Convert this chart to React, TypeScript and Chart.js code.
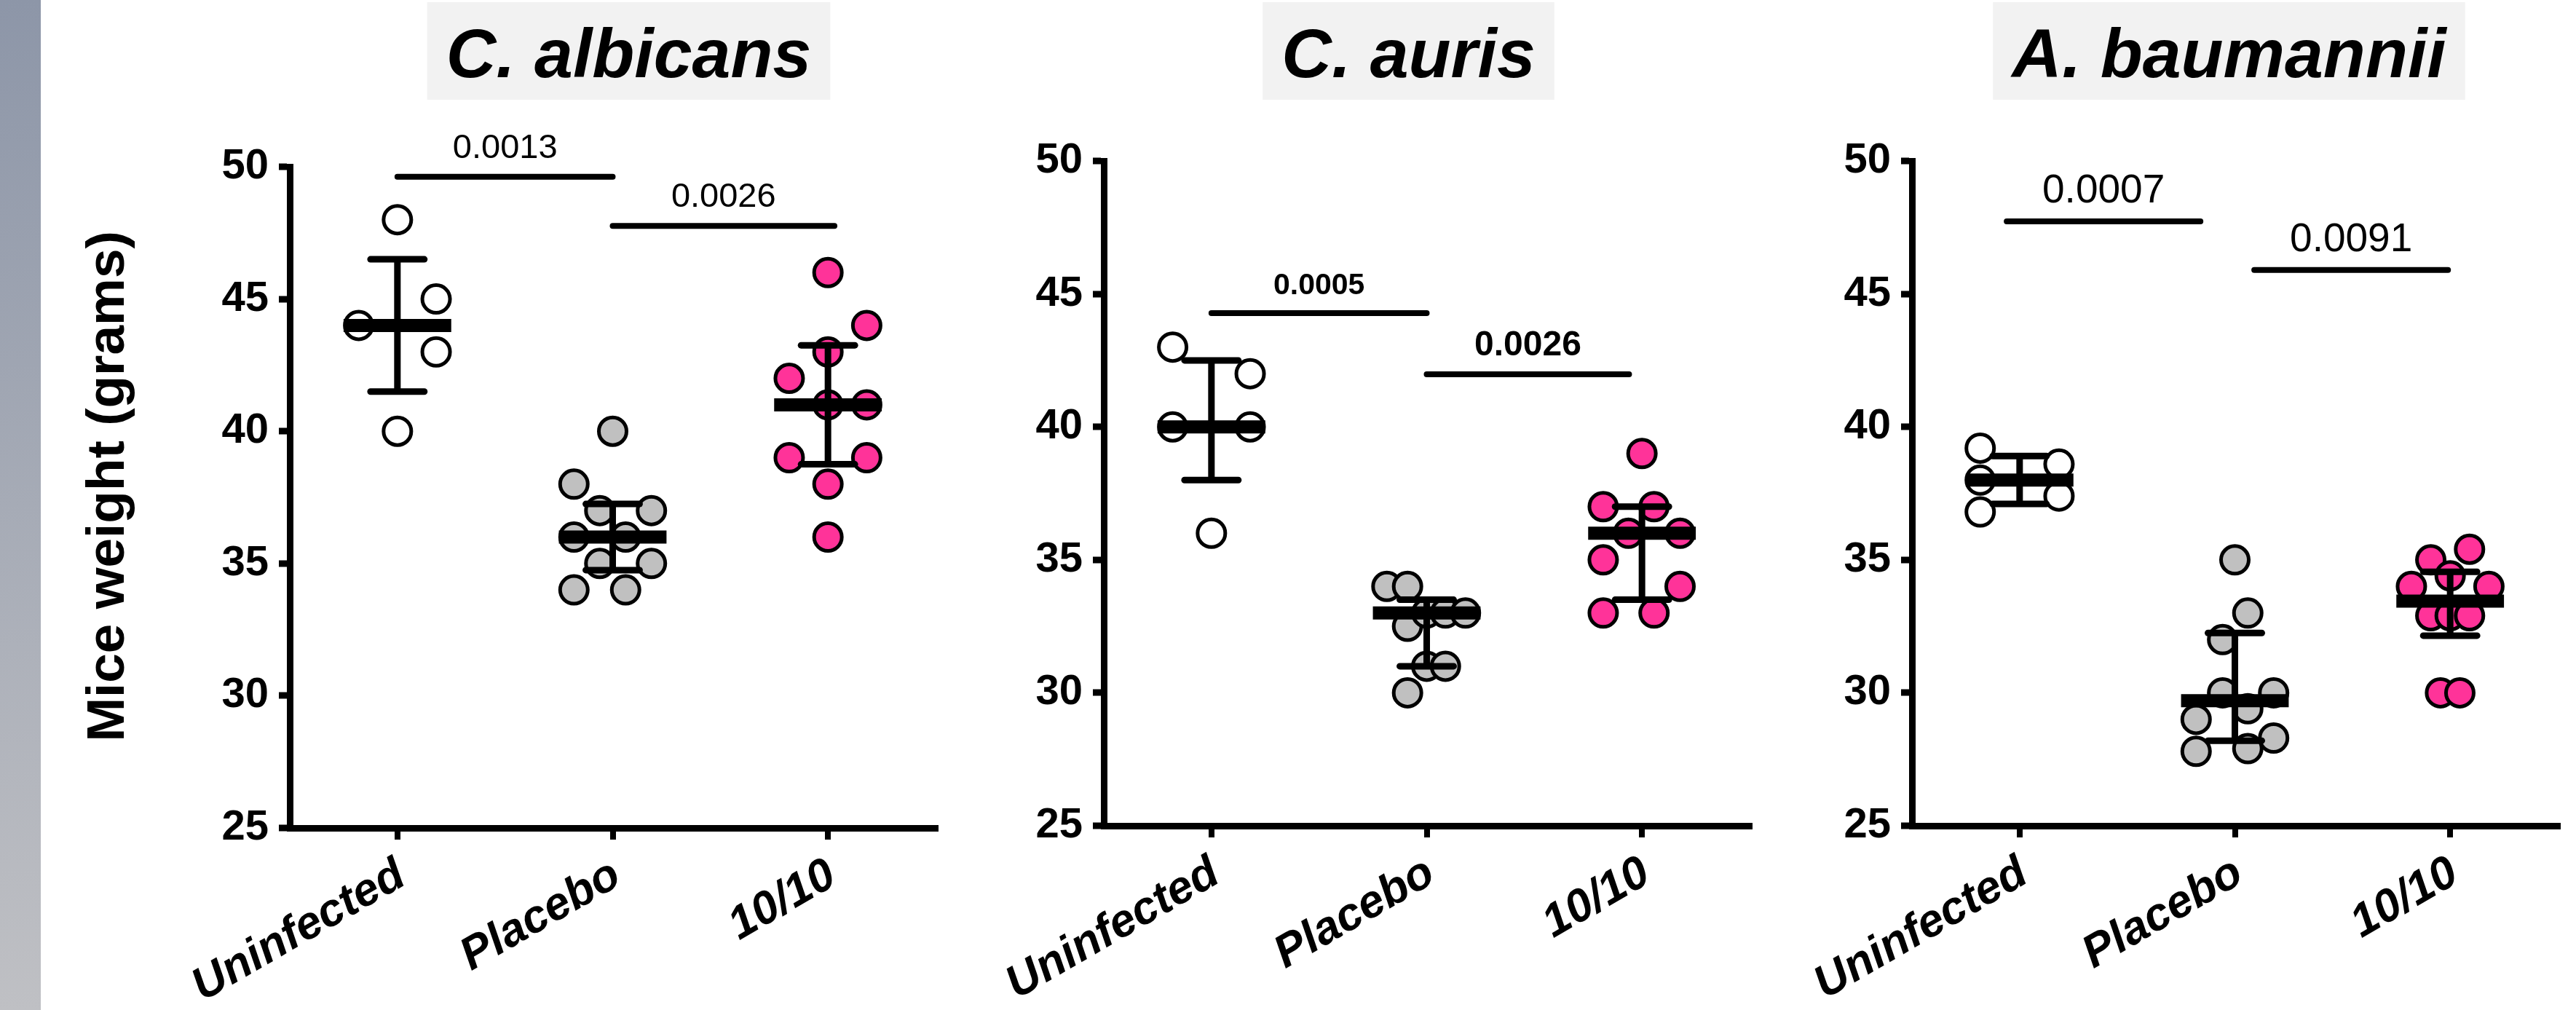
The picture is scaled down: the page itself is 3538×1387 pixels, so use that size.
import React, { useEffect, useRef } from 'react';
import { Chart, registerables } from 'chart.js';

Chart.register(...registerables);

const FONT = '"Liberation Sans", Arial, Helvetica, sans-serif';

// ---------------- data ----------------
const categories = ['Uninfected', 'Placebo', '10/10'];
const panelTitles = ['C. albicans', 'C. auris', 'A. baumannii'];
const yTickValues = [25, 30, 35, 40, 45, 50];
const yAxisTitle = 'Mice weight (grams)';

// C. albicans
const albUninfected = [48, 45, 44, 43, 40];
const albUninfectedJitter = [0, 0.18, -0.18, 0.18, 0];
const albPlacebo = [40, 38, 37, 37, 36, 36, 35, 35, 34, 34];
const albPlaceboJitter = [0, -0.18, -0.06, 0.18, -0.18, 0.06, -0.06, 0.18, -0.18, 0.06];
const albTreated = [46, 44, 43, 42, 41, 41, 39, 39, 38, 36];
const albTreatedJitter = [0, 0.18, 0, -0.18, 0, 0.18, -0.18, 0.18, 0, 0];
const albMedian = [44, 36, 41];
const albQ1 = [41.5, 34.75, 38.75];
const albQ3 = [46.5, 37.25, 43.25];
const albSigFrom = [0, 1];
const albSigTo = [1, 2.03];
const albSigY = [49.62, 47.76];
const albSigP = ['0.0013', '0.0026'];

// C. auris
const aurUninfected = [43, 42, 40, 40, 36];
const aurUninfectedJitter = [-0.18, 0.18, -0.18, 0.18, 0];
const aurPlacebo = [34, 34, 32.5, 33, 33, 33, 31, 31, 30];
const aurPlaceboJitter = [-0.185, -0.089, -0.089, 0, 0.087, 0.18, 0, 0.087, -0.089];
const aurTreated = [39, 37, 37, 36, 36, 35, 34, 33, 33];
const aurTreatedJitter = [0, -0.18, 0.056, -0.063, 0.177, -0.18, 0.177, -0.18, 0.056];
const aurMedian = [40, 33, 36];
const aurQ1 = [38, 31, 33.5];
const aurQ3 = [42.5, 33.5, 37];
const aurSigFrom = [0, 1];
const aurSigTo = [1, 1.94];
const aurSigY = [44.28, 41.98];
const aurSigP = ['0.0005', '0.0026'];

// A. baumannii
const bauUninfected = [39.2, 38.6, 38.0, 37.4, 36.8];
const bauUninfectedJitter = [-0.183, 0.183, -0.183, 0.183, -0.183];
const bauPlacebo = [35, 33, 32, 30, 30, 29.4, 29, 28.3, 27.8, 27.9];
const bauPlaceboJitter = [0, 0.06, -0.057, -0.057, 0.18, 0.06, -0.18, 0.18, -0.18, 0.06];
const bauTreated = [35, 35.4, 34.4, 34, 34, 32.9, 32.9, 32.9, 30, 30];
const bauTreatedJitter = [-0.09, 0.09, 0, -0.18, 0.18, -0.09, 0, 0.09, -0.045, 0.045];
const bauMedian = [38, 29.7, 33.45];
const bauQ1 = [37.1, 28.2, 32.15];
const bauQ3 = [38.9, 32.25, 34.55];
const bauSigFrom = [-0.06, 1.09];
const bauSigTo = [0.84, 1.99];
const bauSigY = [47.73, 45.9];
const bauSigP = ['0.0007', '0.0091'];

// ---------------- styling / layout ----------------
const CANVAS_W = 1309;
const CANVAS_H = 1387;
const Y_SCALE_W = 398;
const PLOT_W = 903;
const groupFills = ['#ffffff', '#c0c0c0', '#ff3399'];

type PanelSpec = {
  title: string;
  values: number[][];
  jitter: number[][];
  median: number[];
  q1: number[];
  q3: number[];
  sigFrom: number[];
  sigTo: number[];
  sigY: number[];
  sigP: string[];
  left: number;
  top: number;
  bottom: number;
  titleShift: number;
  pSizes: number[];
  pBold: boolean;
  showYTitle: boolean;
};

const panels: PanelSpec[] = [
  {
    title: panelTitles[0],
    values: [albUninfected, albPlacebo, albTreated],
    jitter: [albUninfectedJitter, albPlaceboJitter, albTreatedJitter],
    median: albMedian, q1: albQ1, q3: albQ3,
    sigFrom: albSigFrom, sigTo: albSigTo, sigY: albSigY, sigP: albSigP,
    left: 0, top: 229, bottom: 1137, titleShift: 22, pSizes: [47, 47], pBold: false, showYTitle: true,
  },
  {
    title: panelTitles[1],
    values: [aurUninfected, aurPlacebo, aurTreated],
    jitter: [aurUninfectedJitter, aurPlaceboJitter, aurTreatedJitter],
    median: aurMedian, q1: aurQ1, q3: aurQ3,
    sigFrom: aurSigFrom, sigTo: aurSigTo, sigY: aurSigY, sigP: aurSigP,
    left: 1118, top: 221, bottom: 1134, titleShift: -25, pSizes: [41, 48], pBold: true, showYTitle: false,
  },
  {
    title: panelTitles[2],
    values: [bauUninfected, bauPlacebo, bauTreated],
    jitter: [bauUninfectedJitter, bauPlaceboJitter, bauTreatedJitter],
    median: bauMedian, q1: bauQ1, q3: bauQ3,
    sigFrom: bauSigFrom, sigTo: bauSigTo, sigY: bauSigY, sigP: bauSigP,
    left: 2228, top: 221, bottom: 1134, titleShift: -8, pSizes: [55, 55], pBold: false, showYTitle: false,
  },
];

const MEDIAN_HALF = 0.25;
const CAP_HALF = 0.125;
const Y_TITLE_X = 150;
const Y_TITLE_Y = 668;

function makePlugin(spec: PanelSpec) {
  return {
    id: 'panelDecor',
    afterDatasetsDraw(chart: any) {
      const { ctx } = chart;
      const xs = chart.scales.x;
      const ys = chart.scales.y;
      const X = (v: number) => xs.getPixelForValue(v);
      const Y = (v: number) => ys.getPixelForValue(v);
      const line = (x1: number, y1: number, x2: number, y2: number) => {
        ctx.beginPath();
        ctx.moveTo(x1, y1);
        ctx.lineTo(x2, y2);
        ctx.stroke();
      };
      ctx.save();
      ctx.strokeStyle = '#000';
      for (let g = 0; g < categories.length; g++) {
        ctx.lineCap = 'butt';
        ctx.lineWidth = 9;
        line(X(g), Y(spec.q1[g]), X(g), Y(spec.q3[g]));
        ctx.lineCap = 'round';
        ctx.lineWidth = 9;
        line(X(g - CAP_HALF), Y(spec.q1[g]), X(g + CAP_HALF), Y(spec.q1[g]));
        line(X(g - CAP_HALF), Y(spec.q3[g]), X(g + CAP_HALF), Y(spec.q3[g]));
        ctx.lineCap = 'butt';
        ctx.lineWidth = 18;
        line(X(g - MEDIAN_HALF), Y(spec.median[g]), X(g + MEDIAN_HALF), Y(spec.median[g]));
      }
      ctx.fillStyle = '#000';
      ctx.textAlign = 'center';
      ctx.textBaseline = 'alphabetic';
      for (let s = 0; s < spec.sigP.length; s++) {
        ctx.lineCap = 'round';
        ctx.lineWidth = 8;
        const y = Y(spec.sigY[s]);
        line(X(spec.sigFrom[s]), y, X(spec.sigTo[s]), y);
        ctx.font = `${spec.pBold ? 'bold ' : ''}${spec.pSizes[s]}px ${FONT}`;
        ctx.fillText(spec.sigP[s], (X(spec.sigFrom[s]) + X(spec.sigTo[s])) / 2, y - 26);
      }
      ctx.restore();
    },
    afterDraw(chart: any) {
      const { ctx, chartArea } = chart;
      ctx.save();
      ctx.font = `italic bold 95px ${FONT}`;
      const w = ctx.measureText(spec.title).width;
      const cx = (chartArea.left + chartArea.right) / 2 + spec.titleShift;
      ctx.fillStyle = '#f2f2f2';
      ctx.fillRect(cx - w / 2 - 26, 3, w + 52, 134);
      ctx.fillStyle = '#000';
      ctx.textAlign = 'center';
      ctx.textBaseline = 'alphabetic';
      ctx.fillText(spec.title, cx, 106);
      if (spec.showYTitle) {
        ctx.translate(Y_TITLE_X, Y_TITLE_Y);
        ctx.rotate(-Math.PI / 2);
        ctx.font = `bold 73px ${FONT}`;
        ctx.textAlign = 'center';
        ctx.textBaseline = 'middle';
        ctx.fillText(yAxisTitle, 0, 0);
      }
      ctx.restore();
    },
  };
}

function buildConfig(spec: PanelSpec): any {
  return {
    type: 'scatter',
    data: {
      datasets: spec.values.map((vals, g) => ({
        label: categories[g],
        data: vals.map((v, k) => ({ x: g + spec.jitter[g][k], y: v })),
        pointRadius: 19,
        pointHoverRadius: 19,
        pointBorderWidth: 5,
        pointHoverBorderWidth: 5,
        pointBackgroundColor: groupFills[g],
        pointBorderColor: '#000',
        showLine: false,
        clip: false,
      })),
    },
    options: {
      responsive: false,
      animation: false,
      events: [],
      layout: { padding: { left: 0, right: CANVAS_W - Y_SCALE_W - PLOT_W, top: spec.top, bottom: 0 } },
      plugins: {
        legend: { display: false },
        tooltip: { enabled: false },
        title: { display: false },
      },
      scales: {
        x: {
          type: 'linear',
          min: -0.5,
          max: 2.5,
          afterBuildTicks: (s: any) => {
            s.ticks = categories.map((_, i) => ({ value: i }));
          },
          afterFit: (s: any) => {
            s.height = CANVAS_H - spec.bottom;
          },
          ticks: {
            autoSkip: false,
            minRotation: 30,
            maxRotation: 30,
            padding: 12,
            labelOffset: 6,
            color: '#000',
            font: { family: FONT, size: 63, weight: 'bold', style: 'italic' },
            callback: (v: number) => categories[v] ?? '',
          },
          grid: {
            drawOnChartArea: false,
            drawTicks: true,
            tickLength: 16,
            tickWidth: 8,
            tickColor: '#000',
            lineWidth: 8,
            color: '#000',
          },
          border: { display: true, width: 9, color: '#000' },
        },
        y: {
          type: 'linear',
          min: 25,
          max: 50,
          afterBuildTicks: (s: any) => {
            s.ticks = yTickValues.map((v) => ({ value: v }));
          },
          afterFit: (s: any) => {
            s.width = Y_SCALE_W;
          },
          ticks: {
            padding: 14,
            color: '#000',
            font: { family: FONT, size: 58, weight: 'bold' },
          },
          grid: {
            drawOnChartArea: false,
            drawTicks: true,
            tickLength: 15,
            tickWidth: 9,
            tickColor: '#000',
            lineWidth: 8,
            color: '#000',
          },
          border: { display: true, width: 9, color: '#000' },
          title: { display: false },
        },
      },
    },
    plugins: [makePlugin(spec)],
  };
}

function Panel({ spec }: { spec: PanelSpec }) {
  const ref = useRef<HTMLCanvasElement | null>(null);
  useEffect(() => {
    if (!ref.current) return;
    const chart = new Chart(ref.current, buildConfig(spec));
    return () => chart.destroy();
  }, [spec]);
  return (
    <canvas
      ref={ref}
      width={CANVAS_W}
      height={CANVAS_H}
      style={{ position: 'absolute', left: spec.left, top: 0, width: CANVAS_W, height: CANVAS_H }}
    />
  );
}

export default function App() {
  useEffect(() => {
    document.body.style.margin = '0';
  }, []);
  return (
    <div
      style={{
        position: 'absolute',
        left: 0,
        top: 0,
        width: 3538,
        height: 1387,
        overflow: 'hidden',
        background: '#ffffff',
      }}
    >
      <div
        style={{
          position: 'absolute',
          left: 0,
          top: 0,
          width: 56,
          height: 1387,
          background: 'linear-gradient(to bottom, #8d96a8, #bfc0c4)',
        }}
      />
      {panels.map((p, i) => (
        <Panel key={i} spec={p} />
      ))}
    </div>
  );
}
